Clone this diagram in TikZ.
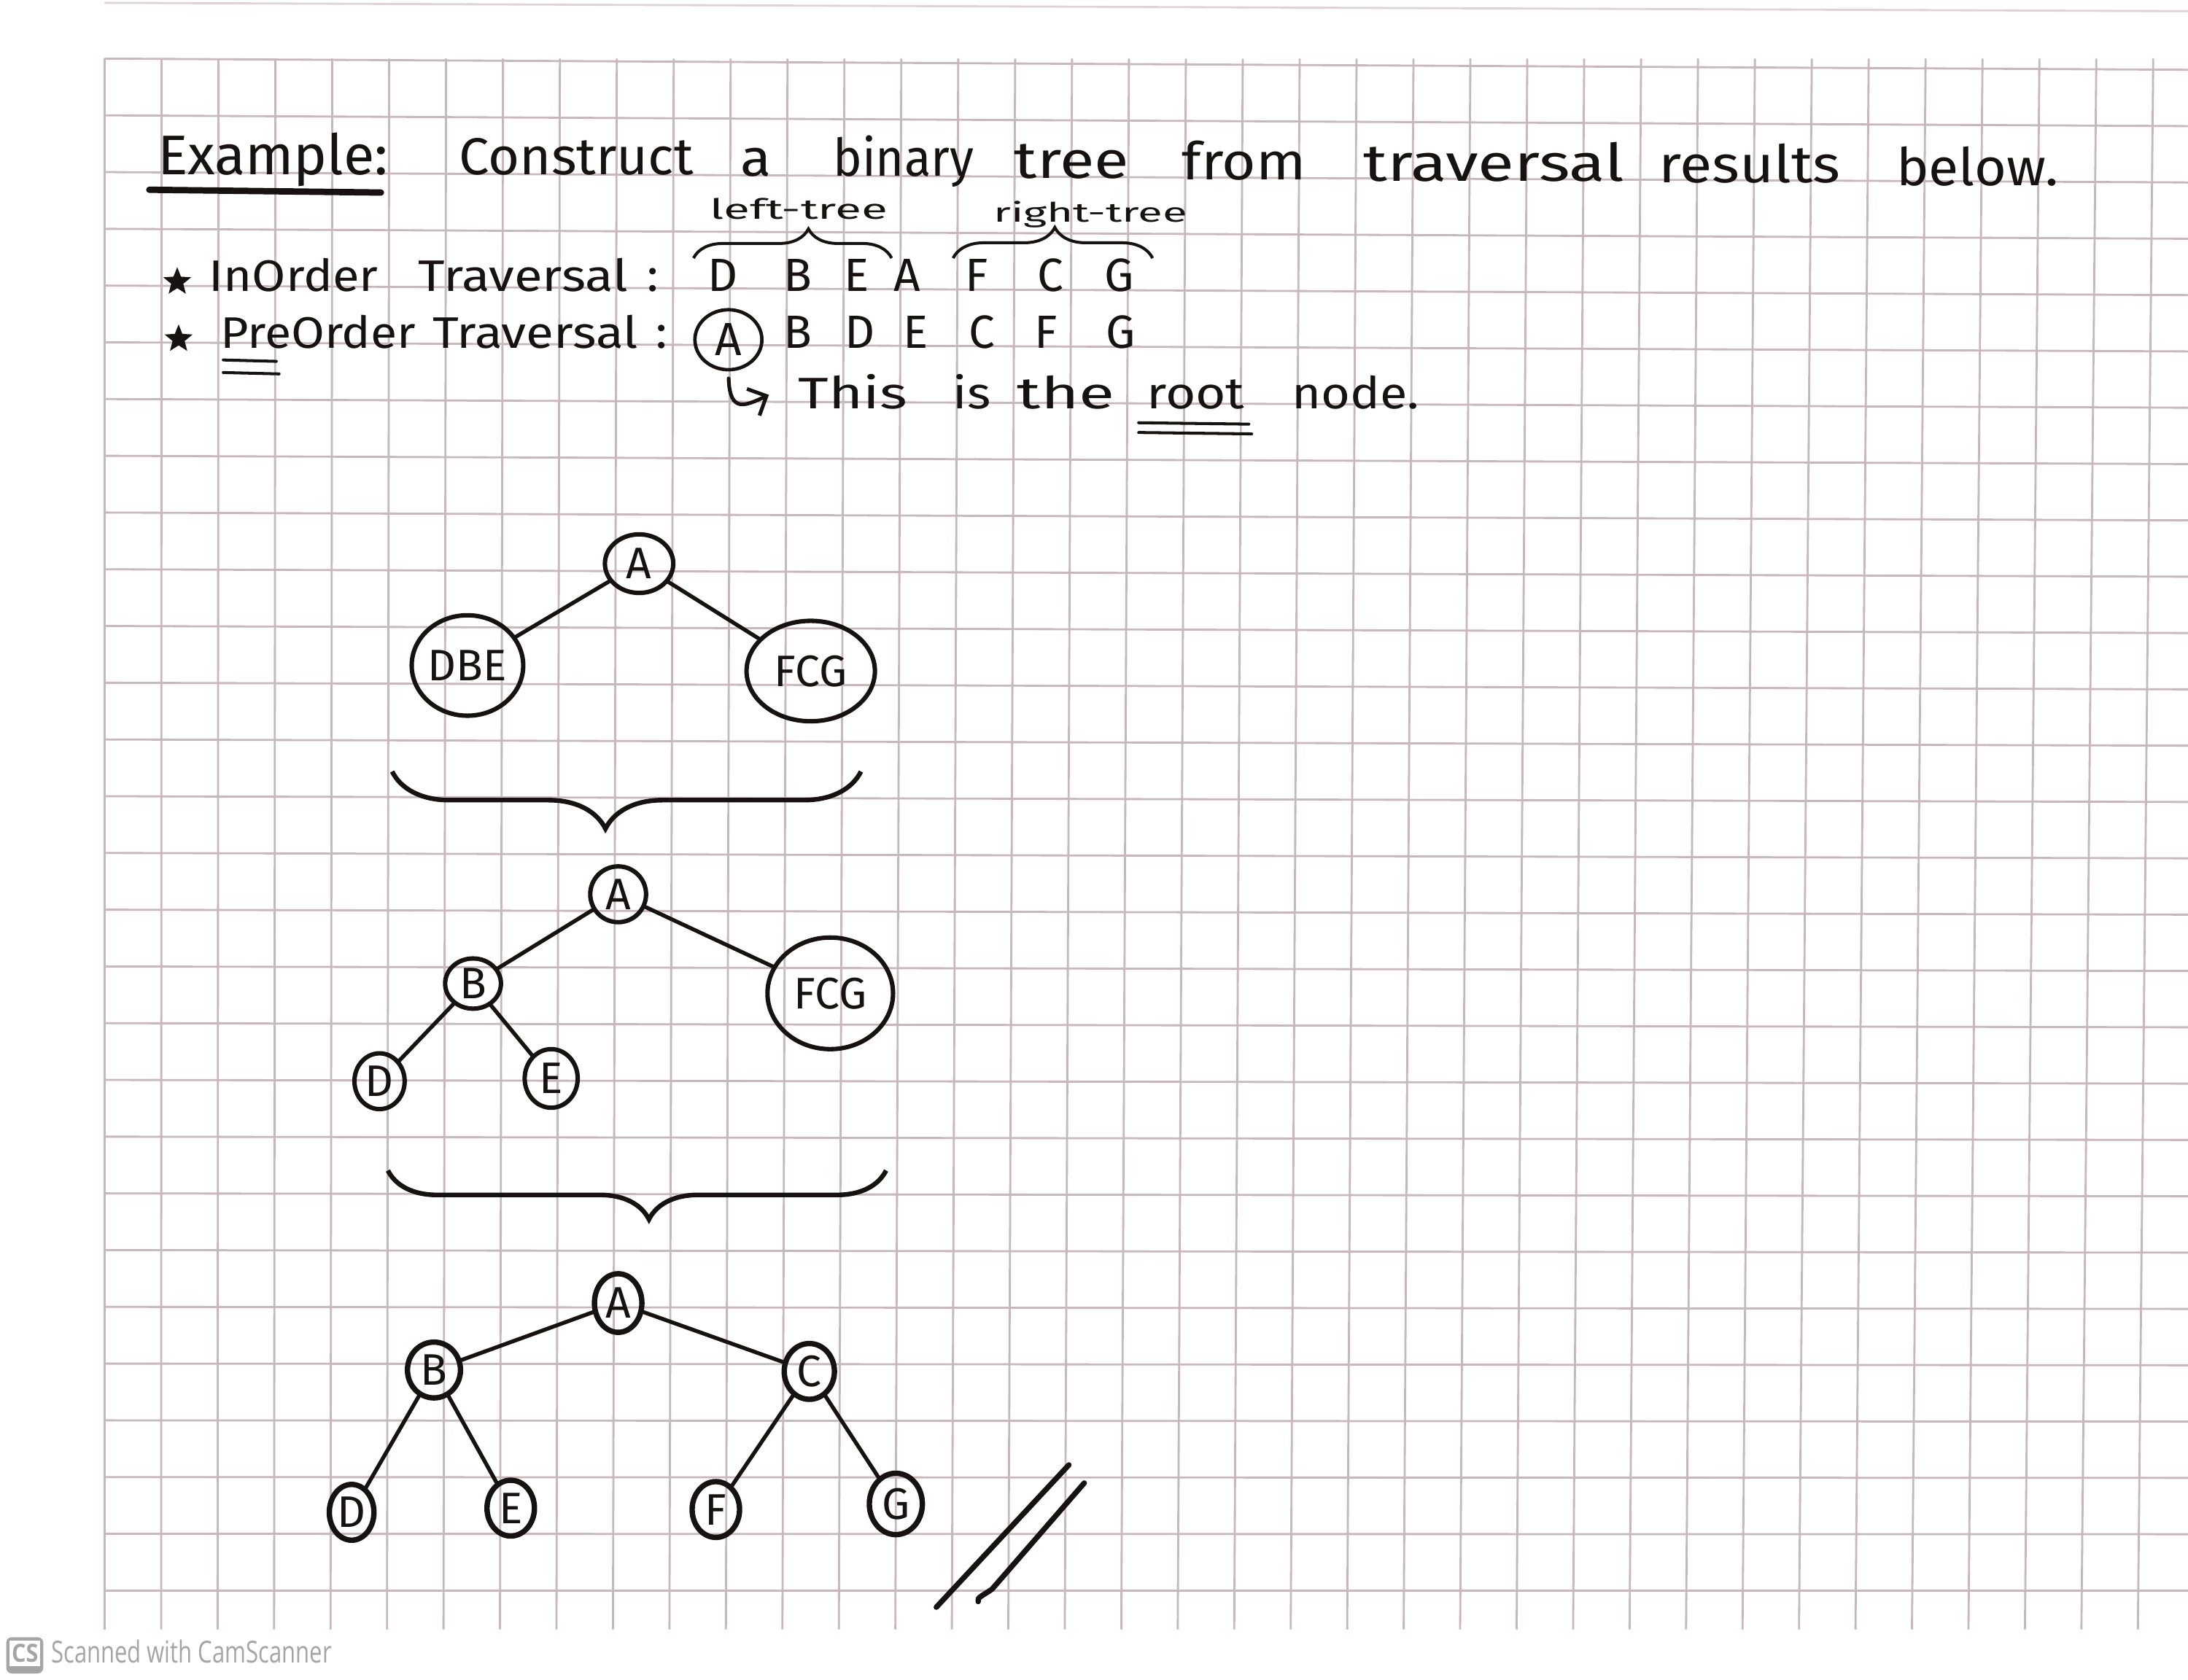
\documentclass[tikz,border=0pt]{standalone}
\usepackage{fontspec}
\setmainfont{Fira Sans}
\newfontfamily\csfont{Open Sans}
\usepackage{graphicx}
\usetikzlibrary{shapes.geometric,decorations.pathreplacing,arrows.meta,calc}
\definecolor{ink}{RGB}{22,18,18}
\definecolor{gridc}{RGB}{200,184,190}
\definecolor{csgray}{RGB}{165,165,165}
\newlength\pxu
\setlength\pxu{0.1mm}
% fit to width and height
\newcommand\fitw[3]{\resizebox{#1\pxu}{#2\pxu}{#3}}
% stretch to width, keep natural height
\newcommand\hx[2]{\resizebox{#1\pxu}{\height}{#2}}
\tikzset{
  gridline/.style={draw=gridc, line width=0.42pt},
  word/.style={inner sep=0pt, outer sep=0pt, anchor=base west, text=ink},
  headw/.style={word, font=\fontsize{10.6}{12}\selectfont},
  travw/.style={word, font=\fontsize{9}{11}\selectfont},
  notew/.style={word, font=\fontsize{9}{11}\selectfont},
  letter/.style={inner sep=0pt, outer sep=0pt, anchor=base, text=ink, font=\fontsize{9.5}{11}\selectfont},
  bullet/.style={star, star points=5, star point ratio=2.3, fill=ink, inner sep=0pt, minimum size=2.1mm},
  tnode/.style 2 args={ellipse, draw=ink, line width=0.9pt, inner sep=0pt,
     minimum width={#1*0.2mm}, minimum height={#2*0.2mm}, text=ink,
     font=\fontsize{9}{10}\selectfont},
  boldnode/.style={line width=1.1pt},
  edge/.style={draw=ink, line width=0.8pt, line cap=round},
  inkline/.style={draw=ink, line cap=round},
  bigbrace/.style 2 args={decorate, decoration={brace, amplitude=#1, aspect=#2}, draw=ink, line width=0.95pt},
  smallbrace/.style 2 args={decorate, decoration={brace, amplitude=#1, aspect=#2}, draw=ink, line width=0.6pt},
}
\begin{document}
\begin{tikzpicture}[x=0.1mm, y=-0.1mm]
\useasboundingbox (0,0) rectangle (1568,1204);
\fill[white] (0,0) rectangle (1568,1204);
% ---- graph paper ----
\draw[gridline, draw=gridc!60] (75,2) -- (1568,8);
\foreach \j in {0,...,27}
  \draw[gridline] (75,{42+40.67*\j}) -- (1568,{42+40.67*\j+8*(1-\j/27)});
\foreach \k in {0,...,36}
  \draw[gridline] ({75+40.78*\k},42) -- ({75+40.78*\k-11*\k/36},1168);

% ---- header ----
\node[word, font=\fontsize{11.4}{13}\selectfont] (exTitle) at (113,125) {\hx{165}{Example:}};
\draw[inkline, line width=1.3pt] (107,136) -- (273,138);
\node[headw] (wConstruct) at (329,125) {\hx{168}{Construct}};
\node[headw] (wA) at (531,126) {\hx{22}{a}};
\node[headw] (wBinary) at (597,126) {\hx{101}{binary}};
\node[headw] (wTree) at (727,128) {\hx{82}{tree}};
\node[headw] (wFrom) at (847,129) {\hx{89}{from}};
\node[headw] (wTraversal) at (977,130) {\hx{187}{traversal}};
\node[headw] (wResults) at (1189,131) {\hx{130}{results}};
\node[headw] (wBelow) at (1359,133) {\hx{116}{below.}};

\node[word] (lblLeft) at (509,157) {\fitw{127}{15}{left-tree}};
\node[word] (lblRight) at (712,159) {\fitw{139}{15}{right-tree}};
\draw[smallbrace={2.1mm}{0.58}] (497,185) -- (639,185);
\draw[smallbrace={2.2mm}{0.51}] (683,185) -- (826,185);

% ---- InOrder line ----
\node[bullet] (star1) at (127,202) {};
\node[travw] (wInOrder) at (150,209) {\hx{121}{InOrder}};
\node[travw] (wTrav1) at (300,209) {\hx{150}{Traversal}};
\node[letter] (col1) at (468,209) {:};
\node[letter] (inD) at (518,209) {D};
\node[letter] (inB) at (572,209) {B};
\node[letter] (inE) at (614,209) {E};
\node[letter] (inA) at (650,209) {A};
\node[letter] (inF) at (700,209) {F};
\node[letter] (inC) at (753,209) {C};
\node[letter] (inG) at (802,209) {G};

% ---- PreOrder line ----
\node[bullet] (star2) at (128,243) {};
\node[travw] (wPreOrder) at (158,249.5) {\hx{140}{PreOrder}};
\node[travw] (wTrav2) at (310,249.5) {\hx{147}{Traversal}};
\draw[inkline, line width=0.6pt] (160,258) -- (198,259);
\draw[inkline, line width=0.6pt] (160,267) -- (200,268);
\node[letter] (col2) at (474,249.5) {:};
\node[ellipse, draw=ink, line width=0.7pt, inner sep=0pt, minimum width=4.8mm, minimum height=4.3mm,
      text=ink, font=\fontsize{9.5}{11}\selectfont] (pA) at (522,243.5) {A};
\node[letter] (preB) at (572,249.5) {B};
\node[letter] (preD) at (616.5,249.5) {D};
\node[letter] (preE) at (656.5,249.5) {E};
\node[letter] (preC) at (703.5,249.5) {C};
\node[letter] (preF) at (749.5,249.5) {F};
\node[letter] (preG) at (803,249.5) {G};

% ---- root note ----
\coordinate (arrEnd) at (551,283);
\draw[inkline, line width=0.75pt, shorten <=0.5mm, -{Straight Barb[length=3pt,width=6pt]}]
  (pA.south) .. controls ($(pA.south)+(1,30)$) and ($(arrEnd)+(-17,8)$) .. (arrEnd);
\node[notew] (wThis) at (572,293) {\hx{78}{This}};
\node[notew] (wIs) at (683,293) {\hx{27}{is}};
\node[notew] (wThe) at (729,293) {\hx{70}{the}};
\node[notew] (wRoot) at (822,293) {\hx{70}{root}};
\node[notew] (wNode) at (926,293) {\hx{91}{node.}};
\draw[inkline, line width=0.6pt] (816,303) -- (895,304);
\draw[inkline, line width=0.6pt] (816,310) -- (897,311);

% ---- tree 1 ----
\node[tnode={24.5}{21}] (t1A) at (458,404) {A};
\node[tnode={37}{36}] (t1L) at (335,477) {DBE};
\node[tnode={46}{36}] (t1R) at (581,481) {FCG};
\draw[edge] (t1A) -- (t1L);
\draw[edge] (t1A) -- (t1R);
\draw[bigbrace={4.1mm}{0.545}] (617,553) -- (281,553);

% ---- tree 2 ----
\node[tnode={20}{20}] (t2A) at (443,641) {A};
\node[tnode={20}{18}] (t2B) at (339,705) {B};
\node[tnode={45}{40}] (t2R) at (595,712) {FCG};
\node[tnode={18}{20}] (t2D) at (272,775) {D};
\node[tnode={19}{21}] (t2E) at (395,773) {E};
\draw[edge] (t2A) -- (t2B);
\draw[edge] (t2A) -- (t2R);
\draw[edge] (t2B) -- (t2D);
\draw[edge] (t2B) -- (t2E);
\draw[bigbrace={3.5mm}{0.476}] (635,839) -- (278,839);

% ---- tree 3 ----
\node[tnode={17}{21}, boldnode] (t3A) at (443,934) {A};
\node[tnode={19}{20}, boldnode] (t3B) at (311,982) {B};
\node[tnode={18}{20}, boldnode] (t3C) at (580,983) {C};
\node[tnode={16}{20}, boldnode] (t3D) at (252,1084) {D};
\node[tnode={17}{20}, boldnode] (t3E) at (366,1081) {E};
\node[tnode={17}{20}, boldnode] (t3F) at (513,1082) {F};
\node[tnode={19}{22}, boldnode] (t3G) at (642,1078) {G};
\draw[edge] (t3A) -- (t3B);
\draw[edge] (t3A) -- (t3C);
\draw[edge] (t3B) -- (t3D);
\draw[edge] (t3B) -- (t3E);
\draw[edge] (t3C) -- (t3F);
\draw[edge] (t3C) -- (t3G);

% ---- end mark // ----
\draw[inkline, line width=1.1pt] (766,1050) -- (671,1152);
\draw[inkline, line width=1.1pt] (777,1063) -- (711,1139) .. controls (704,1144) and (700,1145) .. (701,1148);

% ---- scanner watermark ----
\fill[csgray, rounded corners=0.4mm] (4.5,1173.5) rectangle (31,1199.5);
\fill[white] (7,1175.8) rectangle (28.8,1194.3);
\node[inner sep=0pt, text=csgray] (csMark) at (17.9,1185) {\csfont\bfseries\fitw{19}{13}{CS}};
\node[inner sep=0pt, anchor=base west, text=csgray] (csText) at (36,1192) {\csfont\fitw{201}{16.5}{Scanned with CamScanner}};
\end{tikzpicture}
\end{document}
